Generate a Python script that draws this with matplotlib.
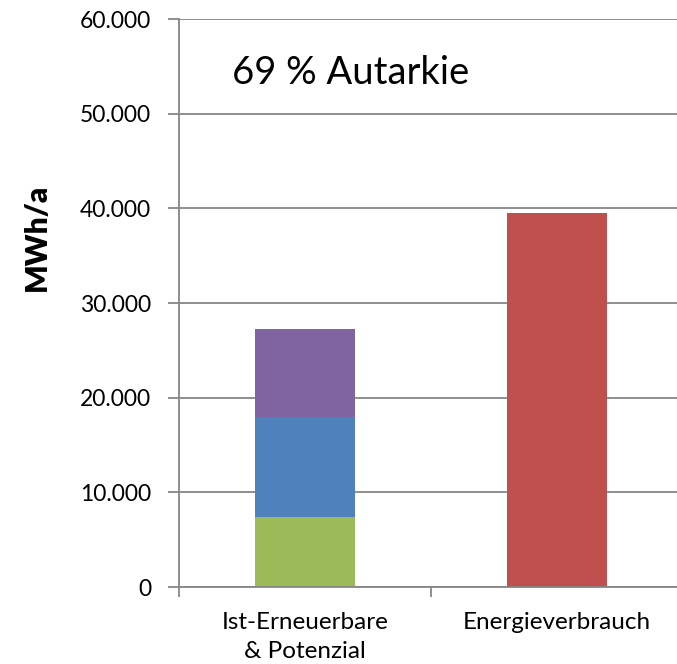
import matplotlib
matplotlib.use("Agg")
import matplotlib.pyplot as plt
from matplotlib.ticker import FuncFormatter

categories = ["Ist-Erneuerbare\n& Potenzial", "Energieverbrauch"]
green_vals = [7400, 0]
blue_vals = [10600, 0]
purple_vals = [9300, 0]
red_vals = [0, 39500]
title_text = "69 % Autarkie"
ylabel_text = "MWh/a"

plt.rcParams['font.family'] = ['Lato', 'DejaVu Sans']

W, H = 677, 664
fig = plt.figure(figsize=(W / 100, H / 100), dpi=100)
left, right, top, bottom = 179, 683, 19, 587
ax = fig.add_axes([left / W, 1 - bottom / H, (right - left) / W, (bottom - top) / H])

x = [0, 1]
bw = 0.4
gray = "#868686"
ax.set_axisbelow(True)
ax.yaxis.grid(True, color=gray, linewidth=1.3)

ax.bar([x[0]], [green_vals[0]], width=bw, color="#9BBB59")
ax.bar([x[0]], [blue_vals[0]], width=bw, bottom=[green_vals[0]], color="#4F81BD")
ax.bar([x[0]], [purple_vals[0]], width=bw,
       bottom=[green_vals[0] + blue_vals[0]], color="#8064A2")
ax.bar([x[1]], [red_vals[1]], width=bw, color="#C0504D")

ax.set_xlim(-0.5, 1.5)
ax.set_ylim(0, 60000)
ax.set_yticks(range(0, 60001, 10000))
ax.yaxis.set_major_formatter(FuncFormatter(lambda v, p: f"{int(v):,}".replace(",", ".")))

ax.set_xticks([-0.5, 0.5, 1.5])
ax.set_xticklabels(["", "", ""])
ax.set_xticks(x, minor=True)
ax.set_xticklabels(categories, minor=True, fontsize=17.5, linespacing=1.5)
ax.tick_params(axis='x', which='minor', length=0, pad=18)
ax.tick_params(axis='x', which='major', length=7, width=1.3, color=gray)
ax.tick_params(axis='y', length=8, width=1.3, color=gray, labelsize=16.5, pad=12)

for s in ["top", "right"]:
    ax.spines[s].set_visible(False)
for s in ["left", "bottom"]:
    ax.spines[s].set_color(gray)
    ax.spines[s].set_linewidth(1.3)

fig.text(351 / W, 1 - 73 / H, title_text, ha='center', va='center', fontsize=27.5)
fig.text(37 / W, 1 - 237 / H, ylabel_text, ha='center', va='center', rotation=90,
         fontsize=21.5, fontweight='heavy')

fig.savefig("out.png", dpi=100)
